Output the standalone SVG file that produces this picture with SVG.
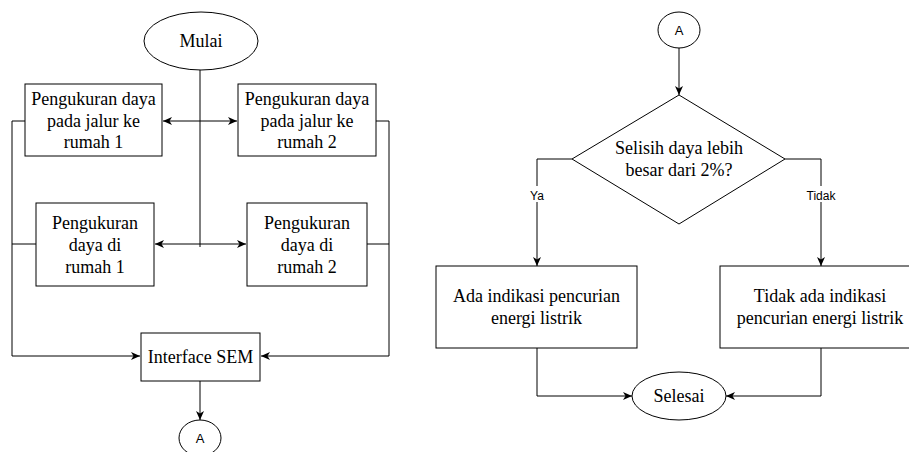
<svg xmlns="http://www.w3.org/2000/svg" width="909" height="452" viewBox="0 0 909 452">
<style>
.shape{fill:#fff;stroke:#000;stroke-width:1}
.t{font-family:"Liberation Serif","Times New Roman",serif;font-size:18px;fill:#000;text-anchor:middle}
.s{font-family:"Liberation Sans",Arial,sans-serif;fill:#000;text-anchor:middle}
.c{fill:none;stroke:#000;stroke-width:1}
</style>
<defs>
<marker id="arr" markerUnits="userSpaceOnUse" markerWidth="10" markerHeight="10" refX="9" refY="5" orient="auto-start-reverse">
<path d="M0,1 L9,5 L0,9 L2.5,5 z" fill="#000"/>
</marker>
</defs>
<rect width="909" height="452" fill="#fff"/>
<g id="connectors">
<path class="c" d="M200,70 V247"/>
<path class="c" d="M163,121 H237" marker-start="url(#arr)" marker-end="url(#arr)"/>
<path class="c" d="M155,244 H246" marker-start="url(#arr)" marker-end="url(#arr)"/>
<path class="c" d="M25,121 H12 V356 H140" marker-end="url(#arr)"/>
<path class="c" d="M36,244 H12"/>
<path class="c" d="M376,121 H389 V356 H261" marker-end="url(#arr)"/>
<path class="c" d="M367,244 H389"/>
<path class="c" d="M200,381 V420" marker-end="url(#arr)"/>
<path class="c" d="M679,48 V95" marker-end="url(#arr)"/>
<path class="c" d="M572,159 H537 V266" marker-end="url(#arr)"/>
<path class="c" d="M785,159 H821 V266" marker-end="url(#arr)"/>
<path class="c" d="M537,348 V396 H632" marker-end="url(#arr)"/>
<path class="c" d="M821,348 V396 H726" marker-end="url(#arr)"/>
<rect x="527" y="186" width="20" height="16" fill="#fff"/>
<text class="s" x="537" y="200" font-size="12">Ya</text>
<rect x="805" y="186" width="32" height="16" fill="#fff"/>
<text class="s" x="821" y="200" font-size="12">Tidak</text>
</g>
<g id="mulai">
<ellipse class="shape" cx="201" cy="41" rx="57" ry="29"/>
<text class="t" x="201" y="47">Mulai</text>
</g>
<g id="box1">
<rect class="shape" x="25" y="84" width="137" height="72"/>
<text class="t" x="93.5" y="105">Pengukuran daya</text>
<text class="t" x="93.5" y="127">pada jalur ke</text>
<text class="t" x="93.5" y="148">rumah 1</text>
</g>
<g id="box2">
<rect class="shape" x="238" y="84" width="138" height="72"/>
<text class="t" x="307" y="105">Pengukuran daya</text>
<text class="t" x="307" y="127">pada jalur ke</text>
<text class="t" x="307" y="148">rumah 2</text>
</g>
<g id="box3">
<rect class="shape" x="36" y="203" width="118" height="83"/>
<text class="t" x="95" y="229">Pengukuran</text>
<text class="t" x="95" y="251">daya di</text>
<text class="t" x="95" y="273">rumah 1</text>
</g>
<g id="box4">
<rect class="shape" x="247" y="203" width="120" height="83"/>
<text class="t" x="307" y="229">Pengukuran</text>
<text class="t" x="307" y="251">daya di</text>
<text class="t" x="307" y="273">rumah 2</text>
</g>
<g id="interface">
<rect class="shape" x="141" y="333" width="119" height="48"/>
<text class="t" x="200.5" y="363">Interface SEM</text>
</g>
<g id="a1">
<ellipse class="shape" cx="200" cy="438" rx="21" ry="18"/>
<text class="s" x="200" y="443" font-size="13">A</text>
</g>
<g id="a2">
<ellipse class="shape" cx="679" cy="30" rx="21" ry="18"/>
<text class="s" x="679" y="35" font-size="13">A</text>
</g>
<g id="decision">
<polygon class="shape" points="679,95 785,159 679,224 572,159"/>
<text class="t" x="679" y="154">Selisih daya lebih</text>
<text class="t" x="679" y="176">besar dari 2%?</text>
</g>
<g id="ada">
<rect class="shape" x="436" y="266" width="201" height="82"/>
<text class="t" x="536.5" y="302">Ada indikasi pencurian</text>
<text class="t" x="536.5" y="324">energi listrik</text>
</g>
<g id="tidak">
<rect class="shape" x="720" y="266" width="201" height="82"/>
<text class="t" x="820" y="302">Tidak ada indikasi</text>
<text class="t" x="820" y="324">pencurian energi listrik</text>
</g>
<g id="selesai">
<ellipse class="shape" cx="679" cy="396" rx="47" ry="24"/>
<text class="t" x="679" y="402">Selesai</text>
</g>
</svg>
